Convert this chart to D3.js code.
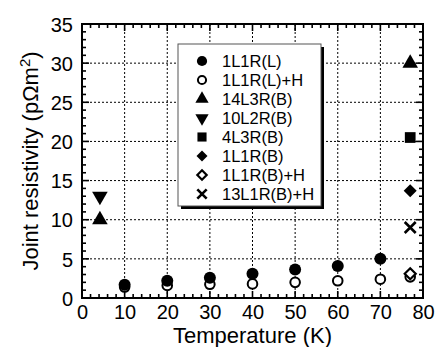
<!DOCTYPE html>
<html><head><meta charset="utf-8">
<script src="https://cdn.jsdelivr.net/npm/d3@7"></script>
<style>body{margin:0;background:#fff}svg{display:block}text{font-family:"Liberation Sans",Arial,sans-serif;fill:#000}</style>
</head><body>
<script>
const xTicks = [0,10,20,30,40,50,60,70,80];
const yTicks = [0,5,10,15,20,25,30,35];
const seriesNames = ["1L1R(L)","1L1R(L)+H","14L3R(B)","10L2R(B)","4L3R(B)","1L1R(B)","1L1R(B)+H","13L1R(B)+H"];
const seriesSymbols = ["circle","circleOpen","triUp","triDown","square","diamond","diamondOpen","x"];
const s1L1R_L = [[10,1.7],[20,2.2],[30,2.6],[40,3.1],[50,3.65],[60,4.1],[70,5.0]];
const s1L1R_LH = [[10,1.4],[20,1.6],[30,1.75],[40,1.8],[50,2.0],[60,2.2],[70,2.4],[77,2.7]];
const s14L3R_B = [[4.2,10],[77,30]];
const s10L2R_B = [[4.2,13]];
const s4L3R_B = [[77,20.5]];
const s1L1R_B = [[77,13.7]];
const s1L1R_BH = [[77,3.1]];
const s13L1R_BH = [[77,9.0]];
const seriesData = [s1L1R_L,s1L1R_LH,s14L3R_B,s10L2R_B,s4L3R_B,s1L1R_B,s1L1R_BH,s13L1R_BH];

const W=438,H=347, L=82,R=423,T=24,B=298;
const svg=d3.select("body").append("svg").attr("width",W).attr("height",H);
const x=d3.scaleLinear().domain([0,80]).range([L,R]);
const y=d3.scaleLinear().domain([0,35]).range([B,T]);

// grid
const g=svg.append("g");
g.selectAll(".vg").data(xTicks.filter(d=>d>0&&d<80)).enter().append("line")
 .attr("x1",d=>x(d)).attr("x2",d=>x(d)).attr("y1",T).attr("y2",B)
 .attr("stroke","#000").attr("stroke-width",1).attr("stroke-dasharray","2,2");
g.selectAll(".hg").data(yTicks.filter(d=>d>0&&d<35)).enter().append("line")
 .attr("y1",d=>y(d)).attr("y2",d=>y(d)).attr("x1",L).attr("x2",R)
 .attr("stroke","#000").attr("stroke-width",1).attr("stroke-dasharray","2,2");

// ticks (inward, all four sides)
const xMinor=d3.range(0,81,2), yMinor=d3.range(0,36,1);
function tick(x1,y1,x2,y2){svg.append("line").attr("x1",x1).attr("y1",y1).attr("x2",x2).attr("y2",y2).attr("stroke","#000").attr("stroke-width",1.6);}
xMinor.forEach(v=>{const len=(v%10===0)?7:4; tick(x(v),B,x(v),B-len); tick(x(v),T,x(v),T+len);});
yMinor.forEach(v=>{const len=(v%5===0)?7:4; tick(L,y(v),L+len,y(v)); tick(R,y(v),R-len,y(v));});
svg.append("rect").attr("x",L).attr("y",T).attr("width",R-L).attr("height",B-T)
 .attr("fill","none").attr("stroke","#000").attr("stroke-width",2);

// tick labels
const xAxis=d3.axisBottom(x).tickValues(xTicks).tickSize(0).tickPadding(6);
const ax=svg.append("g").attr("transform",`translate(0,${B})`).call(xAxis);
ax.select(".domain").remove();
ax.selectAll("text").attr("font-size",20).attr("font-family","Liberation Sans, Arial, sans-serif").attr("dy","0.75em");
const yAxis=d3.axisLeft(y).tickValues(yTicks).tickSize(0).tickPadding(9);
const ay=svg.append("g").attr("transform",`translate(${L},0)`).call(yAxis);
ay.select(".domain").remove();
ay.selectAll("text").attr("font-size",20).attr("font-family","Liberation Sans, Arial, sans-serif").attr("dy","0.36em");

// titles
svg.append("text").attr("x",(L+R)/2).attr("y",343).attr("text-anchor","middle").attr("font-size",22).text("Temperature (K)");
const yt=svg.append("text").attr("transform",`translate(38,${(T+B)/2}) rotate(-90)`).attr("text-anchor","middle").attr("font-size",22);
yt.append("tspan").text("Joint resistivity (p\u03A9m");
yt.append("tspan").attr("font-size",15).attr("dy",-8).text("2");
yt.append("tspan").attr("dy",8).text(")");

// symbols
function drawSym(sel,type,cx,cy,s){
  const gg=sel.append("g").attr("transform",`translate(${cx},${cy})`);
  if(type==="circle") gg.append("circle").attr("r",6*s).attr("fill","#000");
  else if(type==="circleOpen") gg.append("circle").attr("r",4.8*s).attr("fill","#fff").attr("stroke","#000").attr("stroke-width",2);
  else if(type==="triUp") gg.append("path").attr("d",d3.symbol(d3.symbolTriangle,105*s*s)()).attr("fill","#000");
  else if(type==="triDown") gg.append("path").attr("transform","rotate(180)").attr("d",d3.symbol(d3.symbolTriangle,105*s*s)()).attr("fill","#000");
  else if(type==="square") gg.append("path").attr("d",d3.symbol(d3.symbolSquare,115*s*s)()).attr("fill","#000");
  else if(type==="diamond") gg.append("path").attr("d",`M0,${-6.5*s}L${6.5*s},0L0,${6.5*s}L${-6.5*s},0Z`).attr("fill","#000");
  else if(type==="diamondOpen") gg.append("path").attr("d",`M0,${-5.5*s}L${5.5*s},0L0,${5.5*s}L${-5.5*s},0Z`).attr("fill","#fff").attr("stroke","#000").attr("stroke-width",2.2);
  else if(type==="x") gg.append("path").attr("d",`M${-5.5*s},${-5.5*s}L${5.5*s},${5.5*s}M${5.5*s},${-5.5*s}L${-5.5*s},${5.5*s}`).attr("stroke","#000").attr("stroke-width",2.6).attr("fill","none");
}
const pts=svg.append("g");
const order=[1,6,0,2,3,4,5,7];
order.forEach(i=>{seriesData[i].forEach(d=>drawSym(pts,seriesSymbols[i],x(d[0]),y(d[1]),1));});

// legend
const lg=svg.append("g");
const lx=178,ly=44,lw=143,lh=162;
lg.append("rect").attr("x",lx+3).attr("y",ly+3).attr("width",lw).attr("height",lh).attr("fill","#000");
lg.append("rect").attr("x",lx).attr("y",ly).attr("width",lw).attr("height",lh).attr("fill","#fff").attr("stroke","#555").attr("stroke-width",1);
seriesNames.forEach((n,i)=>{
  const yy=ly+17+i*19;
  drawSym(lg,seriesSymbols[i],202,yy,0.85);
  lg.append("text").attr("x",222).attr("y",yy).attr("dy","0.36em").attr("font-size",16.5).text(n);
});
</script>
</body></html>
